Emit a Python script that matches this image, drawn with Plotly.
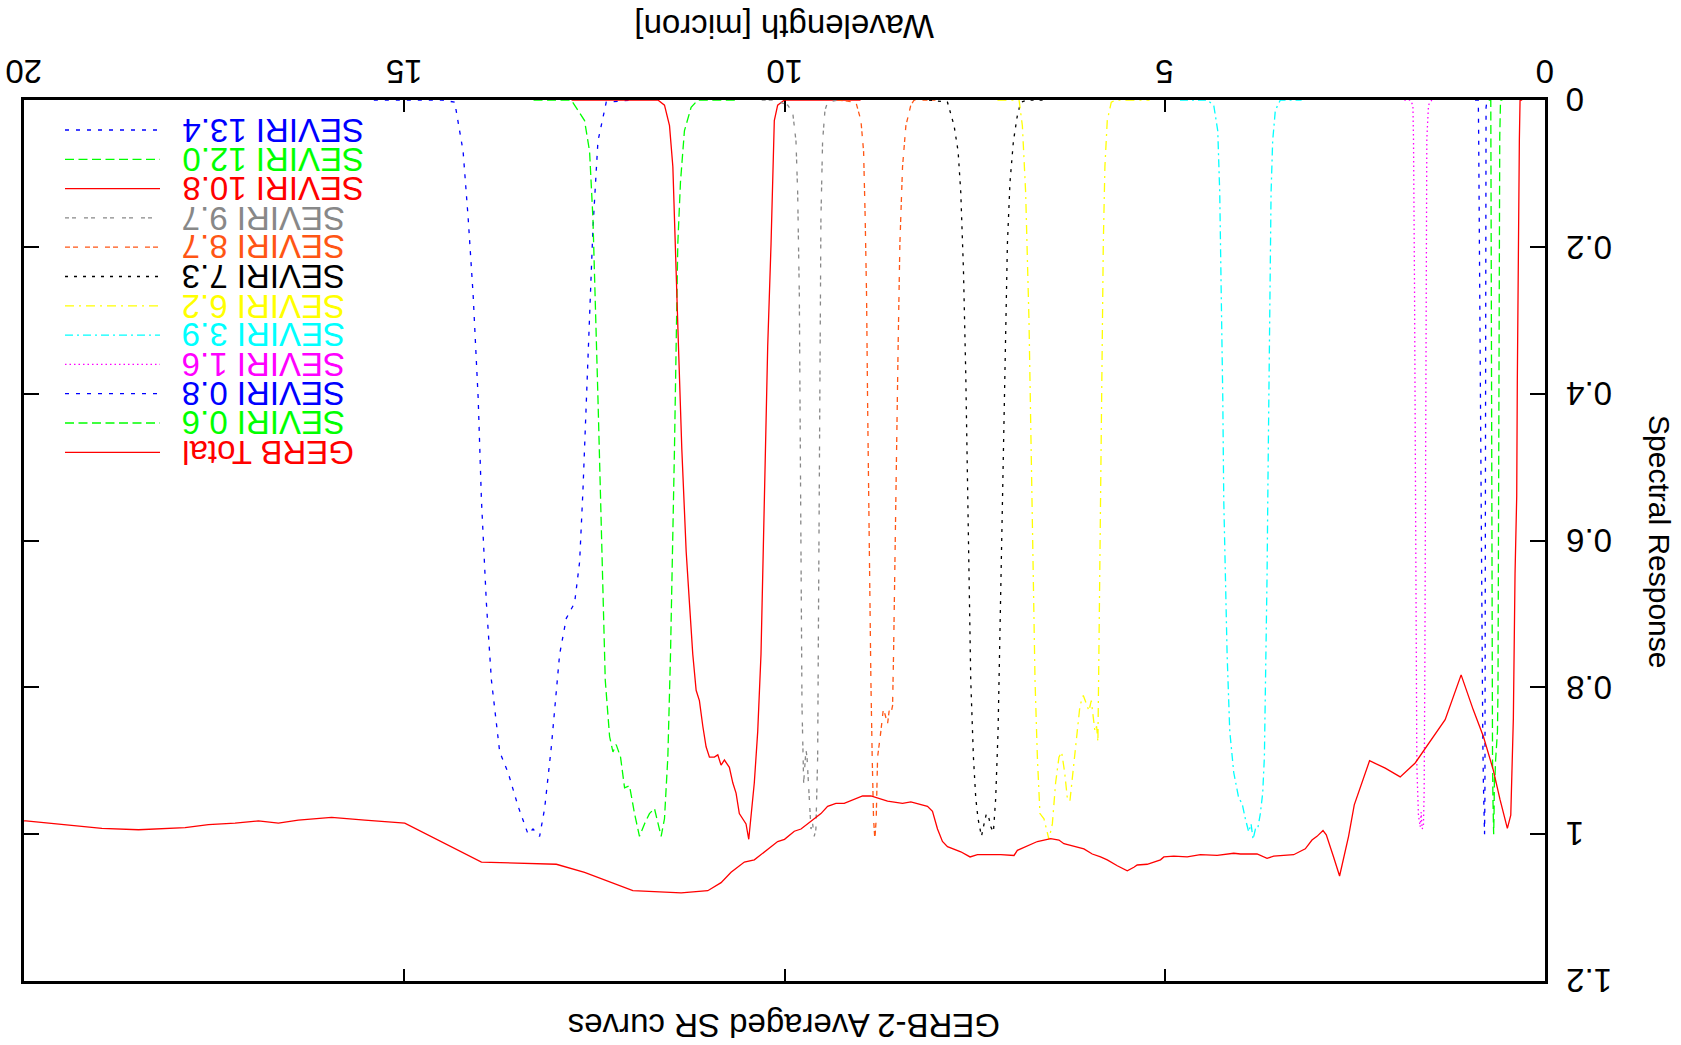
import plotly.graph_objects as go

# ---------------- data (wavelength in micron, spectral response) ----------------
s134_w = [15.4, 14.75, 14.5, 14.336, 14.226, 14.16, 14.094, 14.028, 13.985, 13.92, 13.854, 13.745, 13.635, 13.503,
          13.372, 13.307, 13.22, 13.154, 13.066, 12.957, 12.869, 12.76, 12.694, 12.65, 12.606, 12.563, 12.519,
          12.453, 12.344, 12.0]
s134_r = [0, 0, 0, 0.003, 0.07, 0.16, 0.266, 0.406, 0.545, 0.685, 0.79, 0.888, 0.916, 0.962, 1.0, 0.993, 1.003,
          0.965, 0.881, 0.755, 0.706, 0.685, 0.629, 0.531, 0.406, 0.28, 0.175, 0.056, 0.003, 0]

s120_w = [13.3, 12.804, 12.629, 12.563, 12.519, 12.488, 12.453, 12.418, 12.388, 12.357, 12.3, 12.256, 12.213,
          12.156, 12.103, 12.038, 11.972, 11.907, 11.841, 11.776, 11.71, 11.675, 11.622, 11.578, 11.534, 11.499,
          11.468, 11.447, 11.425, 11.403, 11.368, 11.316, 11.228, 11.14, 10.6]
s120_r = [0, 0, 0.028, 0.07, 0.161, 0.266, 0.406, 0.545, 0.685, 0.79, 0.867, 0.888, 0.878, 0.895, 0.937, 0.934,
          0.972, 1.003, 0.986, 0.972, 0.965, 0.979, 1.003, 0.979, 0.895, 0.755, 0.615, 0.476, 0.336, 0.196, 0.112,
          0.042, 0.01, 0, 0]

s108_w = [12.8, 11.665, 11.578, 11.512, 11.468, 11.433, 11.394, 11.35, 11.293, 11.25, 11.206, 11.162, 11.119,
          11.074, 11.031, 10.987, 10.922, 10.877, 10.834, 10.79, 10.725, 10.68, 10.637, 10.594, 10.549, 10.506,
          10.47, 10.44, 10.397, 10.352, 10.309, 10.265, 10.221, 10.177, 10.155, 10.134, 10.09, 10.0, 9.0]
s108_r = [0, 0, 0.007, 0.035, 0.091, 0.196, 0.336, 0.476, 0.615, 0.685, 0.755, 0.804, 0.818, 0.853, 0.881, 0.895,
          0.895, 0.892, 0.906, 0.899, 0.909, 0.93, 0.944, 0.972, 0.979, 0.986, 1.007, 0.979, 0.93, 0.86, 0.755,
          0.545, 0.336, 0.196, 0.091, 0.028, 0.007, 0, 0]

s97_w = [10.3, 10.134, 9.958, 9.892, 9.849, 9.827, 9.805, 9.792, 9.783, 9.77, 9.748, 9.731, 9.718, 9.704, 9.687,
         9.669, 9.652, 9.63, 9.609, 9.587, 9.564, 9.556, 9.543, 9.53, 9.521, 9.499, 9.468, 9.433, 9.3]
s97_r = [0, 0, 0.007, 0.017, 0.056, 0.126, 0.266, 0.476, 0.685, 0.825, 0.93, 0.895, 0.885, 0.895, 0.93, 0.965,
         0.993, 0.986, 1.003, 0.993, 0.895, 0.755, 0.545, 0.336, 0.161, 0.056, 0.014, 0.003, 0]

s87_w = [9.3, 9.061, 8.995, 8.96, 8.939, 8.921, 8.908, 8.895, 8.882, 8.864, 8.847, 8.829, 8.812, 8.794, 8.776,
         8.755, 8.733, 8.703, 8.68, 8.645, 8.624, 8.601, 8.579, 8.566, 8.549, 8.527, 8.506, 8.483, 8.448, 8.404,
         8.339, 8.295, 8.0]
s87_r = [0, 0.003, 0.028, 0.07, 0.161, 0.266, 0.406, 0.545, 0.685, 0.79, 0.895, 0.979, 1.007, 0.979, 0.895, 0.874,
         0.86, 0.832, 0.836, 0.85, 0.832, 0.836, 0.825, 0.755, 0.615, 0.476, 0.336, 0.196, 0.091, 0.035, 0.007,
         0, 0]

s73_w = [8.1, 7.857, 7.77, 7.717, 7.682, 7.647, 7.617, 7.594, 7.573, 7.551, 7.516, 7.485, 7.455, 7.41, 7.376,
         7.345, 7.31, 7.288, 7.253, 7.223, 7.192, 7.166, 7.135, 7.113, 7.091, 7.069, 7.035, 6.99, 6.938, 6.894,
         6.806, 6.6]
s73_r = [0, 0.003, 0.035, 0.07, 0.126, 0.231, 0.371, 0.51, 0.65, 0.79, 0.895, 0.951, 0.979, 1.003, 0.986, 0.972,
         0.979, 0.99, 0.997, 0.951, 0.86, 0.72, 0.58, 0.441, 0.301, 0.196, 0.112, 0.056, 0.021, 0.003, 0, 0]

s62_w = [7.2, 6.916, 6.872, 6.829, 6.785, 6.754, 6.728, 6.706, 6.675, 6.641, 6.588, 6.523, 6.478, 6.435, 6.391,
         6.356, 6.316, 6.281, 6.247, 6.216, 6.172, 6.115, 6.071, 6.028, 5.997, 5.966, 5.94, 5.918, 5.896, 5.879,
         5.866, 5.853, 5.835, 5.821, 5.808, 5.787, 5.756, 5.703, 5.647, 5.2]
s62_r = [0, 0, 0.035, 0.126, 0.301, 0.476, 0.65, 0.79, 0.895, 0.972, 0.979, 1.007, 0.986, 0.93, 0.895, 0.888,
         0.916, 0.951, 0.955, 0.923, 0.881, 0.825, 0.811, 0.825, 0.832, 0.818, 0.839, 0.86, 0.853, 0.874, 0.755,
         0.615, 0.476, 0.336, 0.196, 0.091, 0.028, 0.003, 0, 0]

s39_w = [4.8, 4.443, 4.356, 4.303, 4.277, 4.255, 4.237, 4.224, 4.202, 4.18, 4.145, 4.093, 4.027, 3.983, 3.94,
         3.896, 3.865, 3.839, 3.808, 3.778, 3.743, 3.712, 3.69, 3.673, 3.655, 3.642, 3.628, 3.615, 3.602, 3.581,
         3.546, 3.48, 3.2]
s39_r = [0, 0, 0.007, 0.042, 0.126, 0.266, 0.406, 0.545, 0.65, 0.755, 0.86, 0.916, 0.951, 0.958, 0.979, 0.997,
         0.986, 1.007, 0.993, 0.993, 0.972, 0.944, 0.895, 0.79, 0.65, 0.51, 0.371, 0.231, 0.126, 0.056, 0.014,
         0, 0]

s16_w = [1.85, 1.773, 1.737, 1.729, 1.716, 1.707, 1.698, 1.685, 1.664, 1.641, 1.628, 1.615, 1.598, 1.589, 1.58,
         1.572, 1.563, 1.554, 1.532, 1.488, 1.45]
s16_r = [0, 0, 0.007, 0.053, 0.25, 0.513, 0.776, 0.908, 0.974, 0.99, 0.97, 0.993, 0.987, 0.941, 0.776, 0.513,
         0.25, 0.053, 0.007, 0, 0]

s08_w = [0.92, 0.877, 0.872, 0.86, 0.848, 0.838, 0.83, 0.818, 0.81, 0.80, 0.795, 0.79, 0.787, 0.784, 0.781,
         0.778, 0.775, 0.76]
s08_r = [0, 0, 0.05, 0.25, 0.5, 0.7, 0.8, 0.87, 0.93, 0.99, 1.0, 0.95, 0.75, 0.5, 0.25, 0.08, 0.01, 0]

s06_w = [0.74, 0.713, 0.71, 0.705, 0.70, 0.695, 0.69, 0.685, 0.68, 0.675, 0.67, 0.665, 0.66, 0.65, 0.64, 0.625,
         0.618, 0.612, 0.605, 0.595, 0.585, 0.56]
s06_r = [0, 0, 0.1, 0.4, 0.7, 0.85, 0.9, 0.95, 0.99, 1.0, 0.97, 0.92, 0.93, 0.9, 0.88, 0.86, 0.8, 0.55, 0.25,
         0.05, 0, 0]

gerb_w = [0.30, 0.328, 0.337, 0.351, 0.364, 0.372, 0.386, 0.380, 0.394, 0.416, 0.45, 0.495, 0.591, 0.679, 0.81,
          0.942, 1.103, 1.313, 1.51, 1.707, 1.904, 2.101, 2.307, 2.407, 2.508, 2.583, 2.701, 2.78, 2.823, 2.876,
          2.919, 2.998, 3.064, 3.152, 3.305, 3.568, 3.655, 3.786, 4.005, 4.093, 4.311, 4.531, 4.705, 4.881, 5.012,
          5.056, 5.231, 5.362, 5.406, 5.493, 5.624, 5.756, 5.844, 5.953, 6.063, 6.326, 6.391, 6.5, 6.675, 6.938,
          6.982, 7.157, 7.463, 7.56, 7.682, 7.857, 7.923, 7.988, 8.054, 8.12, 8.339, 8.448, 8.645, 8.864, 8.973,
          9.215, 9.324, 9.433, 9.521, 9.652, 9.783, 9.871, 10.0, 10.09, 10.265, 10.397, 10.528, 10.703, 10.834,
          11.009, 11.359, 11.994, 12.629, 13.0, 13.985, 14.993, 15.518, 15.955, 16.393, 16.655, 16.918, 17.225,
          17.575, 17.882, 18.494, 18.976, 19.974, 20.0]
gerb_r = [0, 0, 0.053, 0.184, 0.382, 0.54, 0.60, 0.56, 0.645, 0.842, 0.974, 0.992, 0.953, 0.913, 0.867, 0.831,
          0.783, 0.844, 0.874, 0.903, 0.922, 0.91, 0.9, 0.931, 0.96, 1.003, 1.057, 1.031, 1.017, 1.001, 0.995,
          1.003, 1.008, 1.02, 1.028, 1.03, 1.033, 1.027, 1.027, 1.026, 1.029, 1.028, 1.031, 1.03, 1.031, 1.035,
          1.041, 1.042, 1.045, 1.05, 1.043, 1.035, 1.031, 1.027, 1.02, 1.013, 1.008, 1.006, 1.01, 1.022, 1.029,
          1.028, 1.028, 1.031, 1.024, 1.017, 1.01, 0.993, 0.969, 0.962, 0.956, 0.958, 0.955, 0.948, 0.948, 0.958,
          0.958, 0.962, 0.972, 0.983, 0.993, 0.996, 1.007, 1.01, 1.024, 1.035, 1.038, 1.052, 1.066, 1.077, 1.08,
          1.077, 1.052, 1.041, 1.038, 0.985, 0.981, 0.977, 0.981, 0.985, 0.982, 0.985, 0.987, 0.991, 0.994, 0.992,
          0.982, 0.982]

names = ["SEVIRI 13.4", "SEVIRI 12.0", "SEVIRI 10.8", "SEVIRI 9.7", "SEVIRI 8.7", "SEVIRI 7.3",
         "SEVIRI 6.2", "SEVIRI 3.9", "SEVIRI 1.6", "SEVIRI 0.8", "SEVIRI 0.6", "GERB Total"]
colors = ["#0000ff", "#00ff00", "#ff0000", "#888888", "#ff5514", "#000000",
          "#ffff00", "#00ffff", "#ff00ff", "#0000ff", "#00ff00", "#ff0000"]
dashes = ["4px,7px", "9px,4.5px", "solid", "4px,3px,4px,8px", "5px,3px,5px,7px", "3px,6px",
          "9px,5px,2px,5px", "8px,4px,2px,4px", "1.5px,3px", "4px,7px", "9px,4.5px", "solid"]
series_w = [s134_w, s120_w, s108_w, s97_w, s87_w, s73_w, s62_w, s39_w, s16_w, s08_w, s06_w, gerb_w]
series_r = [s134_r, s120_r, s108_r, s97_r, s87_r, s73_r, s62_r, s39_r, s16_r, s08_r, s06_r, gerb_r]

x_ticks = [0, 5, 10, 15, 20]
x_tick_labels = ["0", "5", "10", "15", "20"]
y_ticks = [0, 0.2, 0.4, 0.6, 0.8, 1.0, 1.2]
y_tick_labels = ["0", "0.2", "0.4", "0.6", "0.8", "1", "1.2"]

title_text = "GERB-2 Averaged SR curves"
x_title = "Wavelength [micron]"
y_title = "Spectral Response"

# ---------------- layout geometry (pixels) ----------------
W, H = 1681, 1045
L, R, T, B = 24, 1545, 100, 981
FONT = "Liberation Sans, Arial, Helvetica, sans-serif"
FS = 33


def px2paper_x(px):
    return (px - L) / (R - L)


def px2paper_y(py):
    return 1 - (py - T) / (B - T)


fig = go.Figure()
for w, r, c, d, n in zip(series_w, series_r, colors, dashes, names):
    fig.add_trace(go.Scatter(x=w, y=r, mode="lines", name=n,
                             line=dict(color=c, width=1.3, dash=d), showlegend=False))

shapes = []
annotations = []

# upside-down legend
row_y0, row_dy = 130, 29.3
for i, (n, c, d) in enumerate(zip(names, colors, dashes)):
    yy = px2paper_y(row_y0 + i * row_dy)
    shapes.append(dict(type="line", xref="paper", yref="paper",
                       x0=px2paper_x(65), x1=px2paper_x(160), y0=yy, y1=yy,
                       line=dict(color=c, width=1.3, dash=d)))
    annotations.append(dict(text=n, xref="paper", yref="paper", x=px2paper_x(180), y=yy,
                            xanchor="left", yanchor="middle", showarrow=False, textangle=180,
                            font=dict(family=FONT, size=FS, color=c)))

# tick labels (rotated 180 degrees), placed on the axes' own scales
for v, t in zip(x_ticks, x_tick_labels):
    annotations.append(dict(text=t, xref="x", yref="paper", x=v, y=px2paper_y(72),
                            xanchor="center", yanchor="middle", showarrow=False, textangle=180,
                            font=dict(family=FONT, size=FS, color="black")))
for v, t in zip(y_ticks, y_tick_labels):
    annotations.append(dict(text=t, xref="paper", yref="y", x=px2paper_x(1564), y=v,
                            xanchor="left", yanchor="middle", showarrow=False, textangle=180,
                            font=dict(family=FONT, size=FS, color="black")))

annotations.append(dict(text=title_text, xref="paper", yref="paper", x=px2paper_x(784), y=px2paper_y(1026),
                        xanchor="center", yanchor="middle", showarrow=False, textangle=180,
                        font=dict(family=FONT, size=FS, color="black")))
annotations.append(dict(text=x_title, xref="paper", yref="paper", x=px2paper_x(784), y=px2paper_y(26),
                        xanchor="center", yanchor="middle", showarrow=False, textangle=180,
                        font=dict(family=FONT, size=FS, color="black")))
annotations.append(dict(text=y_title, xref="paper", yref="paper", x=px2paper_x(1660), y=px2paper_y(541),
                        xanchor="center", yanchor="middle", showarrow=False, textangle=90,
                        font=dict(family=FONT, size=30, color="black")))

axis_common = dict(showline=True, linecolor="black", linewidth=2.5, mirror="ticks", ticks="inside",
                   tickcolor="black", tickwidth=2, showgrid=False, zeroline=False, layer="below traces",
                   showticklabels=False)

fig.update_layout(
    width=W, height=H,
    margin=dict(l=L, r=W - R, t=T, b=H - B, pad=0),
    paper_bgcolor="white", plot_bgcolor="white",
    xaxis=dict(range=[20, 0], side="top", tickvals=x_ticks, ticklen=12, **axis_common),
    yaxis=dict(range=[1.2, 0], side="right", tickvals=y_ticks, ticklen=15, **axis_common),
    shapes=shapes, annotations=annotations, showlegend=False,
)

fig.write_html("out.html", config={"displayModeBar": False},
               post_script="document.body.style.margin='0';")
